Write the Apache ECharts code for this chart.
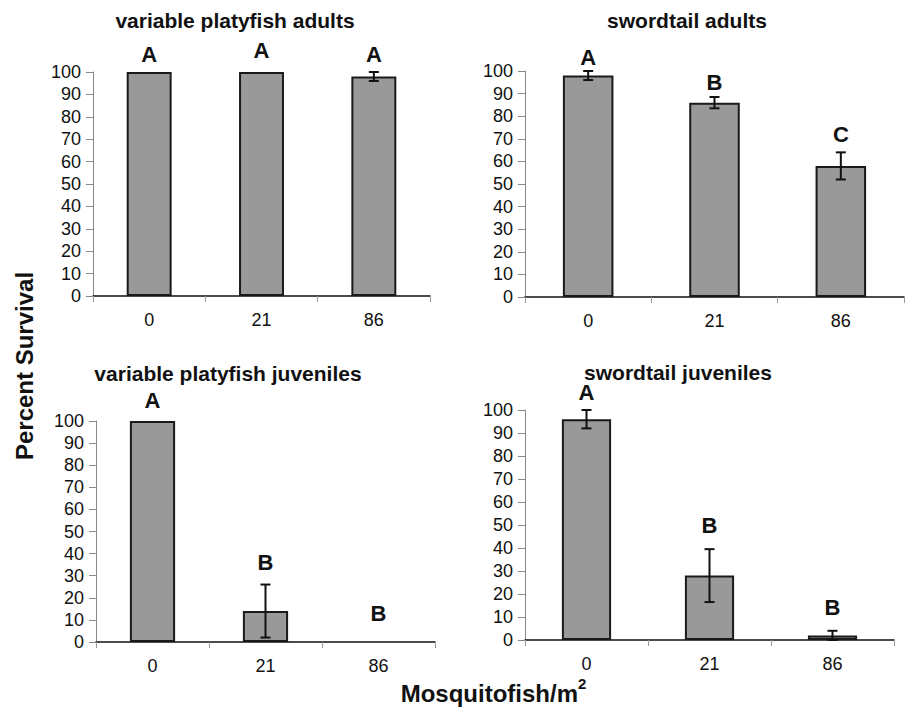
<!DOCTYPE html>
<html>
<head>
<meta charset="utf-8">
<title>Percent survival by mosquitofish density</title>
<script src="https://cdn.jsdelivr.net/npm/echarts@6/dist/echarts.min.js"></script>
<style>
  html, body { margin: 0; padding: 0; background: #fff; }
  #chart { width: 905px; height: 711px; }
</style>
</head>
<body>
<div id="chart"></div>
<script>
// Mosquitofish density treatments (fish per m^2)
const doses = ['0', '21', '86'];

// Variable platyfish adults
const platyAdultMean = [100, 100, 98];
const platyAdultErr = [0, 0, 2];
const platyAdultGroup = ['A', 'A', 'A'];
const platyAdultGroupAt = [108, 109.5, 108];

// Swordtail adults
const swordAdultMean = [98, 86, 58];
const swordAdultErr = [2, 2.5, 6];
const swordAdultGroup = ['A', 'B', 'C'];
const swordAdultGroupAt = [106, 95, 72];

// Variable platyfish juveniles
const platyJuvMean = [100, 14, 0];
const platyJuvErr = [0, 12, 0];
const platyJuvGroup = ['A', 'B', 'B'];
const platyJuvGroupAt = [109.5, 36, 13];

// Swordtail juveniles
const swordJuvMean = [96, 28, 2];
const swordJuvErr = [4, 11.5, 2];
const swordJuvGroup = ['A', 'B', 'B'];
const swordJuvGroupAt = [107.5, 50, 14];

const yMin = 0, yMax = 100, yStep = 10;

const panels = [
  { title: 'variable platyfish adults', mean: platyAdultMean, err: platyAdultErr, group: platyAdultGroup, groupAt: platyAdultGroupAt,
    grid: { left: 93, top: 72, width: 337, height: 224 }, titlePos: [235, 20] },
  { title: 'swordtail adults', mean: swordAdultMean, err: swordAdultErr, group: swordAdultGroup, groupAt: swordAdultGroupAt,
    grid: { left: 525, top: 71, width: 379, height: 226 }, titlePos: [687, 20] },
  { title: 'variable platyfish juveniles', mean: platyJuvMean, err: platyJuvErr, group: platyJuvGroup, groupAt: platyJuvGroupAt,
    grid: { left: 96, top: 421, width: 339, height: 221 }, titlePos: [228, 373] },
  { title: 'swordtail juveniles', mean: swordJuvMean, err: swordJuvErr, group: swordJuvGroup, groupAt: swordJuvGroupAt,
    grid: { left: 525, top: 410, width: 369, height: 230 }, titlePos: [678, 372] }
];

const FONT = '"Liberation Sans", Arial, Helvetica, sans-serif';
const INK = '#111111';

function errorBarItem(params, api) {
  const i = api.value(0);
  const m = api.value(1);
  const e = api.value(2);
  if (!e) return null;
  const top = api.coord([i, m + e]);
  const bot = api.coord([i, m - e]);
  const hw = 5;
  const style = { stroke: INK, lineWidth: 2 };
  return {
    type: 'group',
    children: [
      { type: 'line', shape: { x1: top[0], y1: top[1], x2: bot[0], y2: bot[1] }, style },
      { type: 'line', shape: { x1: top[0] - hw, y1: top[1], x2: top[0] + hw, y2: top[1] }, style },
      { type: 'line', shape: { x1: bot[0] - hw, y1: bot[1], x2: bot[0] + hw, y2: bot[1] }, style }
    ]
  };
}

// Group letters drawn as text at the data point
function letterItem(letters) {
  return function (params, api) {
    const pt = api.coord([api.value(0), api.value(1)]);
    return {
      type: 'text', x: pt[0], y: pt[1],
      style: { text: letters[params.dataIndex], textAlign: 'center', textVerticalAlign: 'middle',
        font: 'bold 22px ' + FONT, fill: INK }
    };
  };
}

const grids = [], xAxes = [], yAxes = [], series = [], graphics = [];

panels.forEach((p, k) => {
  grids.push(Object.assign({ containLabel: false }, p.grid));
  xAxes.push({
    type: 'category', gridIndex: k, data: doses, boundaryGap: true,
    axisLine: { show: true, lineStyle: { color: INK, width: 1.5 } },
    axisTick: { show: true, length: 6, lineStyle: { color: '#999' } },
    axisLabel: { fontSize: 18, color: INK, margin: 15, fontFamily: FONT }
  });
  yAxes.push({
    type: 'value', gridIndex: k, min: yMin, max: yMax, interval: yStep,
    axisLine: { show: true, lineStyle: { color: '#888', width: 1 } },
    axisTick: { show: true, length: 7, lineStyle: { color: '#888' } },
    splitLine: { show: false },
    axisLabel: { fontSize: 18, color: INK, margin: 12, fontFamily: FONT }
  });
  series.push({
    type: 'bar', xAxisIndex: k, yAxisIndex: k, barWidth: '40%',
    data: p.mean.map(v => v === 0
      ? { value: v, itemStyle: { borderWidth: 0 } }
      : v),
    itemStyle: { color: '#999999', borderColor: '#1a1a1a', borderWidth: 2 },
    animation: false
  });
  series.push({
    type: 'custom', xAxisIndex: k, yAxisIndex: k, z: 5,
    renderItem: errorBarItem,
    encode: { x: 0, y: 1 },
    data: p.mean.map((m, i) => [i, m, p.err[i]]),
    animation: false
  });
  series.push({
    type: 'custom', xAxisIndex: k, yAxisIndex: k, z: 6, clip: false,
    renderItem: letterItem(p.group),
    encode: { x: 0, y: 1 },
    data: p.groupAt.map((v, i) => [i, v]),
    animation: false
  });
  graphics.push({
    type: 'text', x: p.titlePos[0], y: p.titlePos[1],
    style: { text: p.title, textAlign: 'center', textVerticalAlign: 'middle',
      font: 'bold 21px ' + FONT, fill: INK }
  });
});

// Shared axis titles
graphics.push({
  type: 'text', x: 24, y: 366, rotation: Math.PI / 2,
  style: { text: 'Percent Survival', textAlign: 'center', textVerticalAlign: 'middle',
    font: 'bold 24px ' + FONT, fill: INK }
});
graphics.push({
  type: 'text', x: 578, y: 693,
  style: { text: 'Mosquitofish/m', textAlign: 'right', textVerticalAlign: 'middle',
    font: 'bold 24px ' + FONT, fill: INK }
});
graphics.push({
  type: 'text', x: 578, y: 683,
  style: { text: '2', textAlign: 'left', textVerticalAlign: 'middle',
    font: 'bold 15px ' + FONT, fill: INK }
});

const chart = echarts.init(document.getElementById('chart'), null, { renderer: 'svg' });
chart.setOption({
  animation: false,
  backgroundColor: '#ffffff',
  textStyle: { fontFamily: FONT },
  grid: grids,
  xAxis: xAxes,
  yAxis: yAxes,
  series: series,
  graphic: graphics
});
</script>
</body>
</html>
